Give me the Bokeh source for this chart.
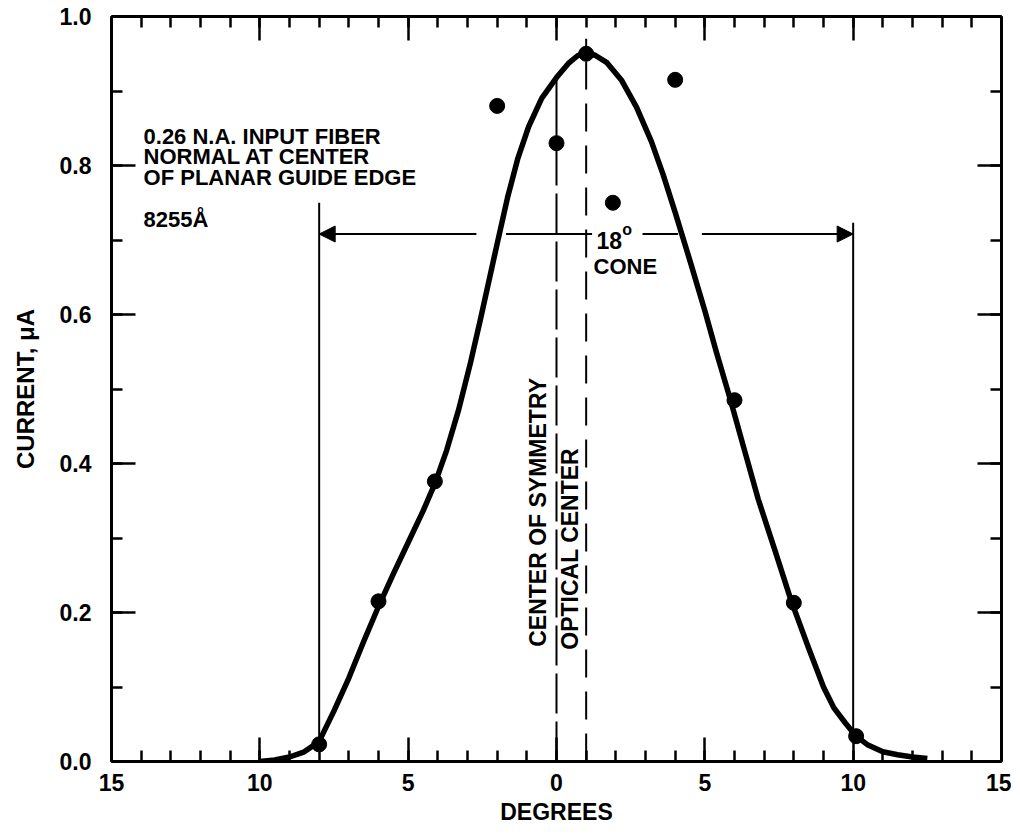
from bokeh.plotting import figure
from bokeh.models import (Range1d, FixedTicker, LinearAxis, Arrow, NormalHead,
                          CustomJSTickFormatter)
from bokeh.embed import file_html
from bokeh.resources import INLINE
from bokeh.core.properties import value

# ---------------- data ----------------
point_deg = [-8.0, -6.0, -4.1, -2.0, 0.0, 1.0, 1.9, 4.0, 6.0, 8.0, 10.1]
point_cur = [0.023, 0.215, 0.376, 0.88, 0.83, 0.95, 0.75, 0.915, 0.485, 0.213, 0.034]

curve_deg = [-10.0, -9.5, -9.0, -8.5, -8.0, -7.5, -7.0, -6.5, -6.0, -5.5, -5.0, -4.5,
             -4.1, -3.7, -3.3, -2.9, -2.56, -2.3, -2.0, -1.65, -1.3, -0.94, -0.5, 0.0,
             0.4, 0.7, 0.96, 1.3, 1.7, 2.2, 2.7, 3.2, 3.6, 4.0, 4.5, 5.0, 5.4, 5.86,
             6.3, 6.8, 7.35, 7.9, 8.5, 9.0, 9.35, 9.73, 10.1, 10.5, 11.0, 11.5, 12.0, 12.5]
curve_cur = [0.0, 0.002, 0.006, 0.013, 0.027, 0.068, 0.112, 0.161, 0.208, 0.252, 0.294,
             0.336, 0.373, 0.418, 0.472, 0.535, 0.594, 0.641, 0.695, 0.757, 0.81, 0.852,
             0.89, 0.918, 0.937, 0.947, 0.952, 0.948, 0.938, 0.914, 0.878, 0.832, 0.787,
             0.737, 0.672, 0.605, 0.548, 0.486, 0.423, 0.352, 0.285, 0.217, 0.152, 0.1,
             0.072, 0.052, 0.034, 0.022, 0.013, 0.009, 0.006, 0.004]

x_ticks = [-15, -10, -5, 0, 5, 10, 15]
x_tick_labels = ["15", "10", "5", "0", "5", "10", "15"]
x_minor = list(range(-15, 16))
y_ticks = [0.0, 0.2, 0.4, 0.6, 0.8, 1.0]
y_tick_labels = ["0.0", "0.2", "0.4", "0.6", "0.8", "1.0"]
y_minor = [0.0, 0.1, 0.2, 0.3, 0.4, 0.5, 0.6, 0.7, 0.8, 0.9, 1.0]

# annotation geometry (in data units)
cone_x = [-8.0, 10.0]
cone_bottom = [0.023, 0.034]
cone_top = [0.75, 0.723]
arrow_y = 0.708
arrow_seg_x0 = [-8.0, -1.7, 2.9, 4.9]
arrow_seg_x1 = [-2.7, 1.2, 4.1, 10.0]
sym_x = 0.0
opt_x = 1.0

note_lines = ["0.26 N.A. INPUT FIBER", "NORMAL AT CENTER", "OF PLANAR GUIDE EDGE", "8255Å"]
note_x = [-13.92, -13.92, -13.92, -13.92]
note_y = [0.839, 0.812, 0.784, 0.7275]

FONT = "Liberation Sans"

p = figure(width=1011, height=830, x_range=Range1d(-15, 15), y_range=Range1d(0, 1),
           output_backend="svg", toolbar_location=None,
           min_border_left=111, min_border_right=10, min_border_top=16, min_border_bottom=69,
           x_axis_label="DEGREES", y_axis_label="CURRENT, μA")
p.grid.visible = False
p.outline_line_color = None
p.background_fill_color = "white"
p.border_fill_color = "white"

xt = FixedTicker(ticks=x_ticks, minor_ticks=x_minor)
yt = FixedTicker(ticks=y_ticks, minor_ticks=y_minor)


def style(ax):
    ax.axis_line_width = 3
    ax.axis_line_color = "black"
    ax.major_tick_line_width = 2.5
    ax.minor_tick_line_width = 2.5
    ax.major_tick_in = 24
    ax.major_tick_out = 0
    ax.minor_tick_in = 11
    ax.minor_tick_out = 0
    ax.major_label_text_font = FONT
    ax.major_label_text_font_style = "bold"
    ax.major_label_text_font_size = "23px"
    ax.major_label_text_color = "black"
    ax.axis_label_text_font = FONT
    ax.axis_label_text_font_style = "bold"
    ax.axis_label_text_font_size = "23px"
    ax.axis_label_text_color = "black"


xa = p.xaxis[0]
xa.ticker = xt
xa.major_label_overrides = dict(zip(x_ticks, x_tick_labels))
style(xa)
xa.major_label_standoff = 12
xa.axis_label_standoff = 5

ya = p.yaxis[0]
ya.ticker = yt
ya.major_label_overrides = dict(zip(y_ticks, y_tick_labels))
style(ya)
ya.major_label_standoff = 20
ya.axis_label_standoff = 18
ya.axis_label_text_font_size = "24px"

blank = CustomJSTickFormatter(code="return ''")
top = LinearAxis(ticker=xt, formatter=blank)
style(top)
top.major_label_standoff = 0
p.add_layout(top, "above")
right = LinearAxis(ticker=yt, formatter=blank)
style(right)
right.major_label_standoff = 0
p.add_layout(right, "right")

# cone vertical boundary lines
p.segment(x0=cone_x, y0=cone_bottom, x1=cone_x, y1=cone_top, line_color="black", line_width=2)

# horizontal cone arrow line segments
p.segment(x0=arrow_seg_x0, y0=[arrow_y] * len(arrow_seg_x0), x1=arrow_seg_x1,
          y1=[arrow_y] * len(arrow_seg_x1), line_color="black", line_width=2)
p.add_layout(Arrow(end=NormalHead(size=16, fill_color="black", line_color="black"),
                   x_start=-7.0, y_start=arrow_y, x_end=cone_x[0], y_end=arrow_y,
                   line_width=2, line_color="black"))
p.add_layout(Arrow(end=NormalHead(size=16, fill_color="black", line_color="black"),
                   x_start=9.0, y_start=arrow_y, x_end=cone_x[1], y_end=arrow_y,
                   line_width=2, line_color="black"))

# centre of symmetry (x=0) and optical centre (x=1)
p.segment(x0=[sym_x], y0=[0.83], x1=[sym_x], y1=[0.915], line_color="black", line_width=2)
p.segment(x0=[sym_x], y0=[0.0], x1=[sym_x], y1=[0.83], line_color="black", line_width=2,
          line_dash="40 8")
p.segment(x0=[opt_x], y0=[0.0], x1=[opt_x], y1=[0.97], line_color="black", line_width=2,
          line_dash="28 14")

# curve and points
p.line(curve_deg, curve_cur, line_color="black", line_width=5.5, line_join="round")
p.scatter(point_deg, point_cur, size=15, fill_color="black", line_color="black")

# texts
p.text(x=note_x, y=note_y, text=note_lines, text_font=value(FONT), text_font_style="bold",
       text_font_size="22px", text_color="black", text_baseline="alphabetic", text_align="left")
p.text(x=[-0.607], y=[0.154], text=["CENTER OF SYMMETRY"], angle=1.5708,
       text_font=value(FONT), text_font_style="bold", text_font_size="23px",
       text_color="black", text_baseline="middle", text_align="left")
p.text(x=[0.44], y=[0.150], text=["OPTICAL CENTER"], angle=1.5708,
       text_font=value(FONT), text_font_style="bold", text_font_size="23px",
       text_color="black", text_baseline="middle", text_align="left")
p.text(x=[1.35], y=[0.699], text=["18"], text_font=value(FONT), text_font_style="bold",
       text_font_size="23px", text_color="black", text_baseline="alphabetic", text_align="left")
p.text(x=[2.22], y=[0.714], text=["o"], text_font=value(FONT), text_font_style="bold",
       text_font_size="16px", text_color="black", text_baseline="alphabetic", text_align="left")
p.text(x=[1.25], y=[0.664], text=["CONE"], text_font=value(FONT), text_font_style="bold",
       text_font_size="22px", text_color="black", text_baseline="alphabetic", text_align="left")

open("out.html", "w").write(file_html(p, INLINE))
